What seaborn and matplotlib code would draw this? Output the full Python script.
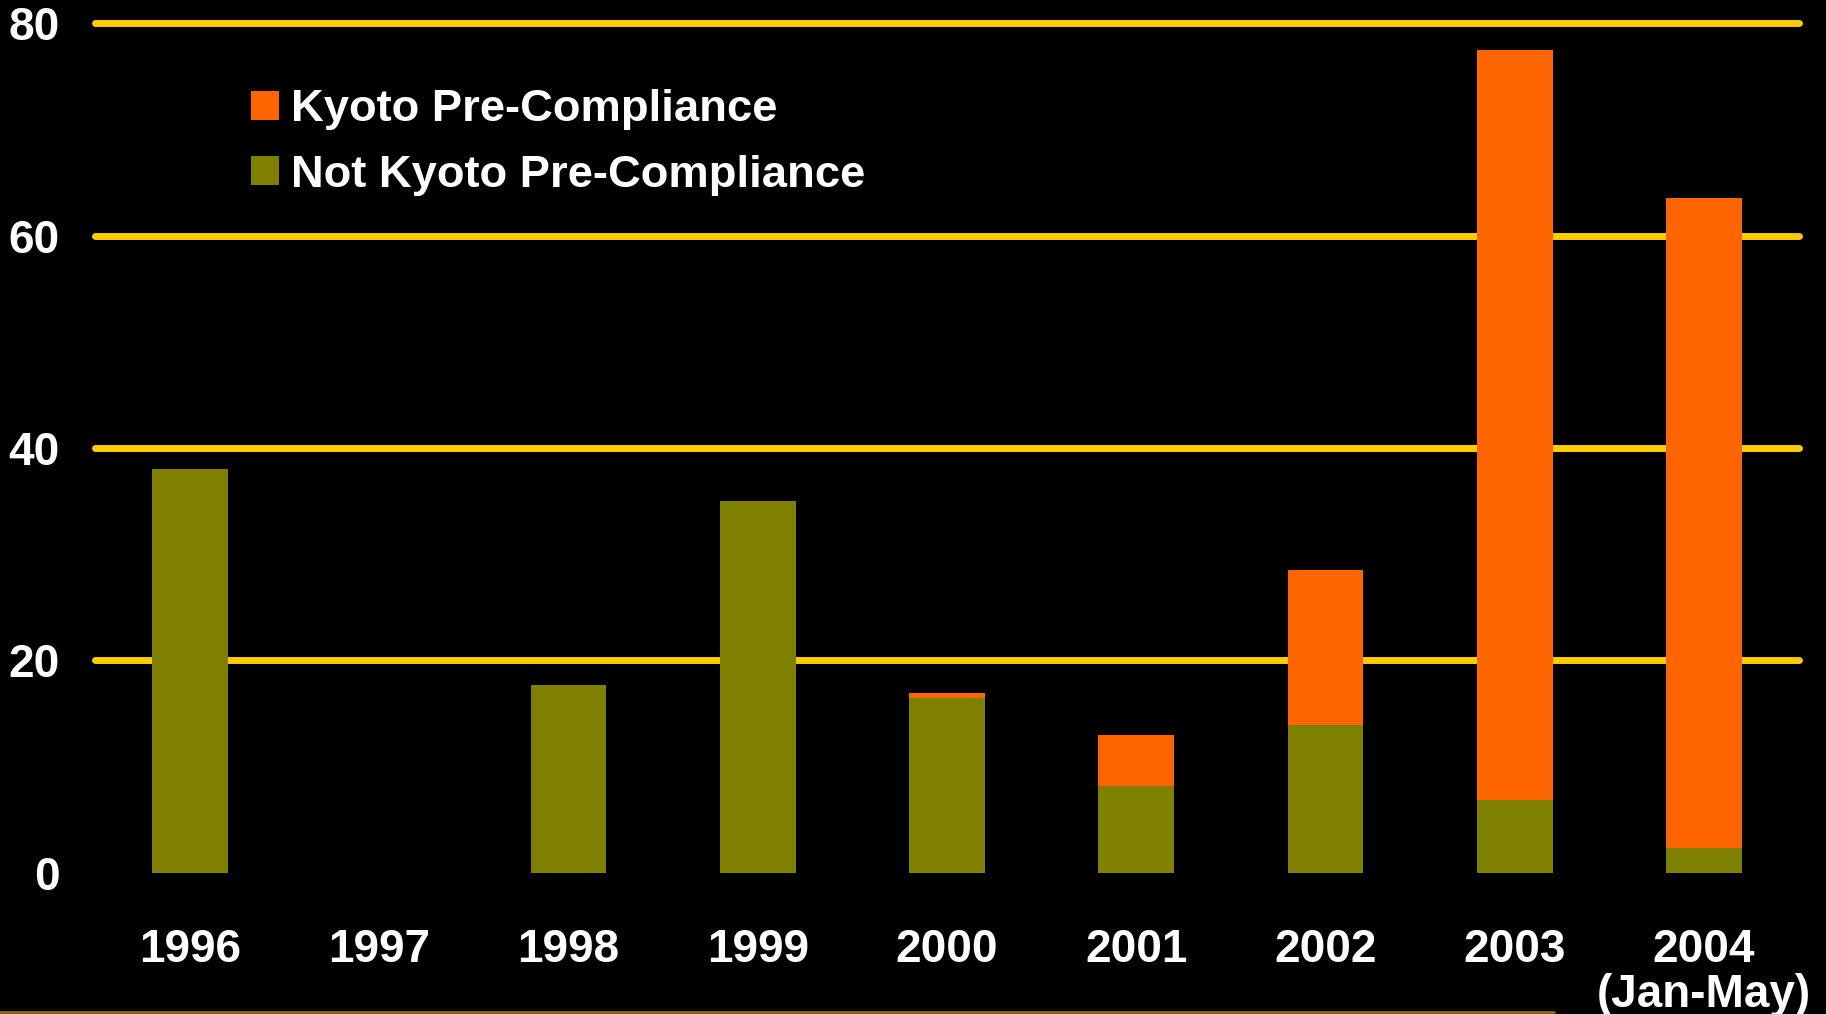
import matplotlib

matplotlib.use("Agg")
import matplotlib.pyplot as plt
import pandas as pd
import seaborn as sns
from matplotlib.lines import Line2D
from matplotlib.patches import Patch

# values
years = ["1996", "1997", "1998", "1999", "2000", "2001", "2002", "2003", "2004\n(Jan-May)"]
not_kyoto = [38, 0, 17.7, 35, 16.4, 8.2, 13.9, 6.8, 2.3]
kyoto = [0, 0, 0, 0, 0.5, 4.8, 14.6, 70.7, 61.2]
y_ticks = [0, 20, 40, 60, 80]

ORANGE = "#FF6600"
OLIVE = "#808000"
GOLD = "#FFCC00"

sns.set_theme(style="dark")
plt.rcParams["font.family"] = ["Liberation Sans", "DejaVu Sans"]
plt.rcParams["font.weight"] = "bold"

df = pd.DataFrame({"year": years, "not_kyoto": not_kyoto, "kyoto": kyoto})
df["total"] = df["not_kyoto"] + df["kyoto"]

fig = plt.figure(figsize=(18.26, 10.14), dpi=100, facecolor="black")
ax = fig.add_axes([0.0523, 0.1395, 0.9327, 0.8375])
ax.set_facecolor("black")

sns.barplot(data=df, x="year", y="total", color=ORANGE, saturation=1,
            width=0.4, linewidth=0, ax=ax)
sns.barplot(data=df, x="year", y="not_kyoto", color=OLIVE, saturation=1,
            width=0.4, linewidth=0, ax=ax)

ax.set_xlim(-0.5, len(years) - 0.5)
ax.set_ylim(0, 80)
ax.set_yticks(y_ticks)
ax.set_xlabel("")
ax.set_ylabel("")
for s in ax.spines.values():
    s.set_visible(False)

ax.yaxis.grid(True, color=GOLD, linewidth=5)
ax.xaxis.grid(False)
ax.set_axisbelow(True)
for gl in ax.get_ygridlines():
    gl.set_clip_on(False)
ax.get_ygridlines()[0].set_visible(False)  # no rule at zero

ax.tick_params(axis="y", length=0, pad=26, labelsize=33, labelcolor="white")
ax.tick_params(axis="x", length=0, pad=40, labelsize=33, labelcolor="white")
for lab in ax.get_xticklabels():
    lab.set_linespacing(1.02)
    lab.set_fontweight("bold")
    lab.set_verticalalignment("top")
for lab in ax.get_yticklabels():
    lab.set_fontweight("bold")

handles = [Patch(facecolor=ORANGE, edgecolor="none", label="Kyoto Pre-Compliance"),
           Patch(facecolor=OLIVE, edgecolor="none", label="Not Kyoto Pre-Compliance")]
leg = fig.legend(handles=handles, loc="upper left", bbox_to_anchor=(0.1375, 0.912),
                 frameon=False, fontsize=32.7, handlelength=0.62, handleheight=0.62,
                 handletextpad=0.26, labelspacing=0.54, borderpad=0, borderaxespad=0)
for t in leg.get_texts():
    t.set_color("white")
    t.set_fontweight("bold")

# thin rule along the bottom edge of the slide
fig.add_artist(Line2D([0, 0.851], [0.0015, 0.0015], color="#8B6B1A", linewidth=2,
                      transform=fig.transFigure))

fig.savefig("out.png", dpi=100, facecolor="black")
